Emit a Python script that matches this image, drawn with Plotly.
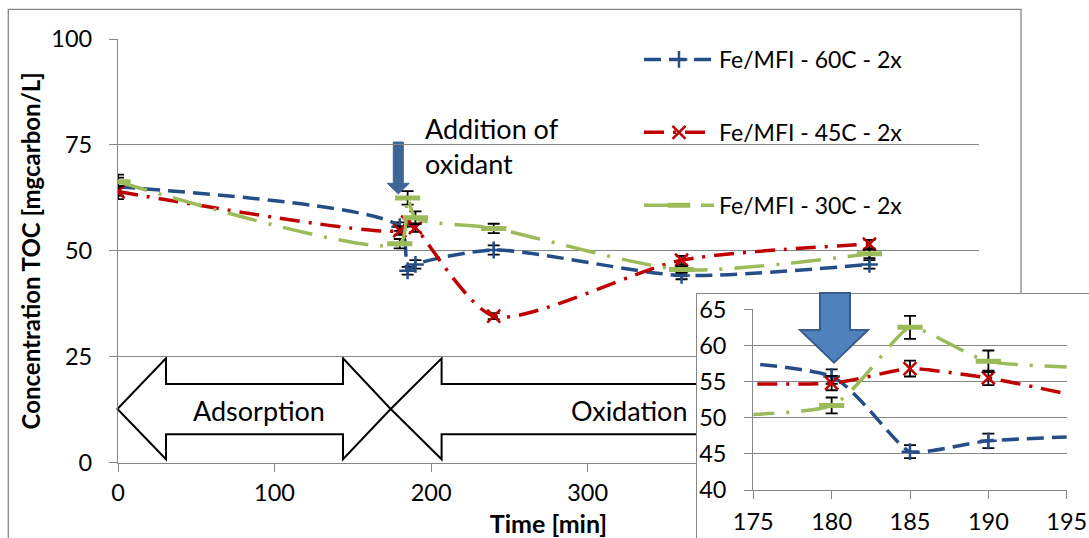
import plotly.graph_objects as go

W, H = 1089, 538

# ---------------- data ----------------
time_min = [0, 180, 185, 190, 240, 360, 480]
series_names = ["Fe/MFI - 60C - 2x", "Fe/MFI - 45C - 2x", "Fe/MFI - 30C - 2x"]
toc_60c = [65.1, 55.7, 45.3, 46.8, 50.2, 44.2, 46.8]
err_60c = [2.9, 1.0, 0.9, 1.0, 1.1, 0.9, 1.0]
toc_45c = [64.0, 54.8, 56.8, 55.5, 34.6, 47.8, 51.6]
err_45c = [1.0, 1.0, 1.1, 1.0, 0.7, 1.0, 1.0]
toc_30c = [66.3, 51.7, 62.5, 57.8, 55.3, 45.6, 49.3]
err_30c = [1.0, 1.1, 1.6, 1.5, 1.1, 0.8, 1.0]

main_xticks = [0, 100, 200, 300, 400, 500]
main_xlabels = ["0", "100", "200", "300", "", ""]   # 400/500 sit under the inset
main_yticks = [0, 25, 50, 75, 100]
inset_xticks = [175, 180, 185, 190, 195]
inset_yticks = [40, 45, 50, 55, 60, 65]

# ---------------- styling ----------------
FONT = "Lato"
GREY = "#868686"
BLUE, RED, GREEN = "#254E87", "#C00000", "#9BBB59"

styles = [
    dict(color=BLUE, dash="17px,8px", symbol="cross-thin", size=12, mlw=2.5),
    dict(color=RED, dash="20px,9px,3px,9px", symbol="x-thin", size=13, mlw=2.5),
    dict(color=GREEN, dash="30px,12px,3px,12px", symbol="line-ew", size=18, mlw=5),
]
values = [toc_60c, toc_45c, toc_30c]
errors = [err_60c, err_45c, err_30c]


def px(x):
    return x / W


def py(y):
    return 1 - y / H


fig = go.Figure()

for xa, ya, show, smooth in (("x", "y", True, 0.7), ("x3", "y3", False, 0.45)):
    for name, vals, errs, st in zip(series_names, values, errors, styles):
        fig.add_trace(go.Scatter(
            x=time_min, y=vals, name=name, xaxis=xa, yaxis=ya,
            mode="lines+markers", showlegend=show, legendgroup=name,
            line=dict(color=st["color"], width=3.5, dash=st["dash"],
                      shape="spline", smoothing=smooth, simplify=False),
            marker=dict(symbol=st["symbol"], size=st["size"], color=st["color"],
                        line=dict(width=st["mlw"], color=st["color"])),
            error_y=dict(type="data", array=errs, color="black",
                         thickness=1.8, width=6),
        ))
    if xa == "x":
        # blank box that holds the inset
        fig.add_trace(go.Scatter(x=[], y=[], xaxis="x2", yaxis="y2",
                                 showlegend=False, hoverinfo="skip"))

tickfont = dict(family=FONT, size=23.5, color="black")
common = dict(showline=True, linecolor=GREY, linewidth=1.3, ticks="outside",
              tickcolor=GREY, tickwidth=1.3, ticklen=8, zeroline=False,
              tickfont=tickfont, automargin=False)

fig.update_layout(
    width=W, height=H,
    margin=dict(l=0, r=0, t=0, b=0),
    paper_bgcolor="white", plot_bgcolor="white",
    font=dict(family=FONT, color="black"),
    xaxis=dict(domain=[px(118), px(979)], range=[0, 550], tickvals=main_xticks,
               ticktext=main_xlabels, showgrid=False, anchor="y",
               ticklabelstandoff=1,
               title=dict(text="Time [min]", standoff=11,
                          font=dict(family=FONT, size=25, weight="bold")),
               **common),
    yaxis=dict(domain=[py(462.7), py(39)], range=[0, 100], tickvals=main_yticks,
               showgrid=True, gridcolor=GREY, gridwidth=1.3, anchor="x",
               ticklabelstandoff=12,
               title=dict(text="Concentration TOC [mgcarbon/L]", standoff=3,
                          font=dict(family=FONT, size=24, weight="bold")),
               **common),
    xaxis2=dict(domain=[px(697), 1], range=[0, 1], anchor="y2", side="top",
                showline=True, linecolor=GREY, linewidth=1.3, showgrid=False,
                zeroline=False, showticklabels=False, ticks=""),
    yaxis2=dict(domain=[0, py(294)], range=[0, 1], anchor="x2", side="left",
                showline=True, linecolor=GREY, linewidth=1.3, showgrid=False,
                zeroline=False, showticklabels=False, ticks=""),
    xaxis3=dict(domain=[px(753.3), px(1066.7)], range=[175, 195],
                tickvals=inset_xticks, showgrid=False, anchor="y3",
                ticklabelstandoff=3, **common),
    yaxis3=dict(domain=[py(490), py(309.3)], range=[40, 65],
                tickvals=inset_yticks, showgrid=True, gridcolor=GREY,
                gridwidth=1.3, anchor="x3", ticklabelstandoff=13, **common),
    legend=dict(x=px(639), y=py(38), xanchor="left", yanchor="top",
                bgcolor="rgba(0,0,0,0)", itemwidth=70, tracegroupgap=40,
                font=dict(family=FONT, size=23, color="black")),
    showlegend=True,
)


def path(points):
    return "M " + " L ".join(f"{px(x):.5f},{py(y):.5f}" for x, y in points) + " Z"


# outer chart border
fig.add_shape(type="rect", xref="paper", yref="paper", x0=px(8.3), x1=px(1021),
              y0=-0.1, y1=py(9.3), line=dict(color=GREY, width=1.3), layer="below")

# Adsorption / Oxidation block arrows
fig.add_shape(type="path", xref="paper", yref="paper", layer="below",
              path=path([(117.4, 409), (166, 358.3), (166, 384), (343, 384),
                         (343, 358.3), (390.7, 409), (343, 459.3), (343, 434.3),
                         (166, 434.3), (166, 459.3)]),
              fillcolor="white", line=dict(color="black", width=2))
fig.add_shape(type="path", xref="paper", yref="paper", layer="below",
              path=path([(390.7, 409), (441.6, 358.3), (441.6, 384), (950, 384),
                         (950, 358.3), (1000, 409), (950, 459.3), (950, 434.3),
                         (441.6, 434.3), (441.6, 459.3)]),
              fillcolor="white", line=dict(color="black", width=2))

# main "addition of oxidant" arrow
fig.add_shape(type="path", xref="paper", yref="paper", layer="below",
              path=path([(393.3, 142), (403.3, 142), (403.3, 183.3), (409.3, 183.3),
                         (398.3, 194), (387.3, 183.3), (393.3, 183.3)]),
              fillcolor="#3F6597", line=dict(color="#3F6597", width=1))

# inset arrow
fig.add_shape(type="path", xref="paper", yref="paper", layer="above",
              path=path([(820, 293), (850, 293), (850, 330), (868, 330),
                         (834, 362.7), (800, 330), (820, 330)]),
              fillcolor="#4F81BD", line=dict(color="#385D8A", width=2))

annfont = dict(family=FONT, size=27, color="black")
fig.add_annotation(xref="paper", yref="paper", x=px(423), y=py(110),
                   xanchor="left", yanchor="top", align="left", showarrow=False,
                   text="Addition of<br>oxidant", font=annfont)
fig.add_annotation(xref="paper", yref="paper", x=px(259), y=py(410),
                   xanchor="center", yanchor="middle", showarrow=False,
                   text="Adsorption", font=annfont)
fig.add_annotation(xref="paper", yref="paper", x=px(629), y=py(410),
                   xanchor="center", yanchor="middle", showarrow=False,
                   text="Oxidation", font=annfont)

fig.write_html("out.html")
